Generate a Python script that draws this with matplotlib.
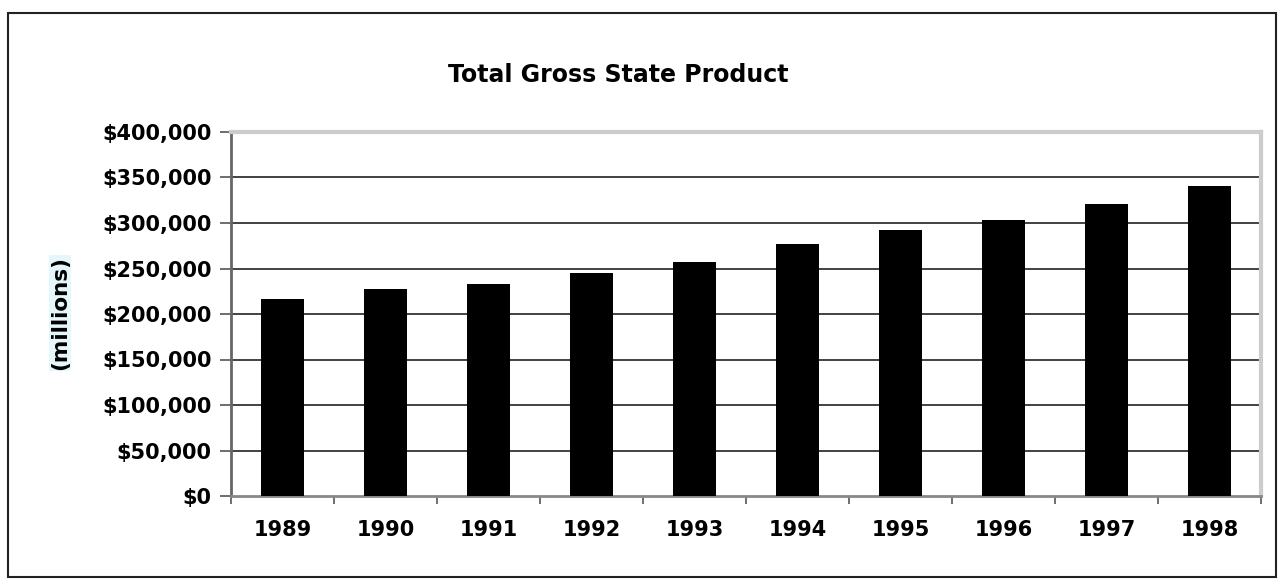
import matplotlib.pyplot as plt
from matplotlib.patches import Rectangle
from matplotlib.ticker import FuncFormatter, FixedLocator, NullFormatter
import numpy as np

years = ["1989", "1990", "1991", "1992", "1993", "1994", "1995", "1996", "1997", "1998"]
gsp = [217000, 227000, 232500, 245500, 256600, 277400, 292800, 303700, 321000, 341000]
y_ticks = [0, 50000, 100000, 150000, 200000, 250000, 300000, 350000, 400000]

plt.rcParams['font.family'] = ['DejaVu Sans']
plt.rcParams['font.weight'] = 'bold'

W, H = 1281, 580
fig = plt.figure(figsize=(W / 100, H / 100), dpi=100)

# outer chart border
fig.patches.append(Rectangle((8 / W, 1 - 577 / H), 1268 / W, 564 / H,
                             transform=fig.transFigure, fill=False,
                             edgecolor="#222222", linewidth=1.5))

ax = fig.add_axes([231 / W, 1 - 496 / H, 1030 / W, 364 / H])

x = np.arange(len(years))
ax.bar(x, gsp, width=0.41, color="black", zorder=3)

ax.set_xlim(-0.5, len(years) - 0.5)
ax.set_ylim(0, 400000)

ax.set_yticks(y_ticks)
ax.yaxis.set_major_formatter(FuncFormatter(lambda v, p: f"${v:,.0f}"))
ax.tick_params(axis="y", direction="out", length=8, width=1.2, color="#555555",
               labelsize=15, pad=6)
for lbl in ax.get_yticklabels():
    lbl.set_fontweight("bold")

# category labels at centres, tick marks at boundaries
ax.xaxis.set_major_locator(FixedLocator(x))
ax.set_xticklabels(years, fontsize=15, fontweight="bold")
ax.tick_params(axis="x", which="major", length=0, pad=17)
ax.xaxis.set_minor_locator(FixedLocator(np.arange(-0.5, len(years), 1.0)))
ax.xaxis.set_minor_formatter(NullFormatter())
ax.tick_params(axis="x", which="minor", direction="out", length=6, width=1.2,
               color="#555555")

for v in y_ticks[1:-1]:
    ax.axhline(v, color="#222222", linewidth=1.2, zorder=1)

ax.spines["left"].set_color("#666666")
ax.spines["left"].set_linewidth(2)
ax.spines["bottom"].set_color("#888888")
ax.spines["bottom"].set_linewidth(2)
ax.spines["top"].set_color("#cccccc")
ax.spines["top"].set_linewidth(3)
ax.spines["right"].set_color("#cccccc")
ax.spines["right"].set_linewidth(3)

fig.text(618 / W, 1 - 75 / H, "Total Gross State Product", ha="center", va="center",
         fontsize=17, fontweight="bold")
fig.text(60 / W, 1 - 313 / H, "(millions)", ha="center", va="center", rotation=90,
         fontsize=15.5, fontweight="bold",
         bbox=dict(facecolor="#e6f7fb", edgecolor="none", pad=1))

fig.savefig("out.png", dpi=100)
